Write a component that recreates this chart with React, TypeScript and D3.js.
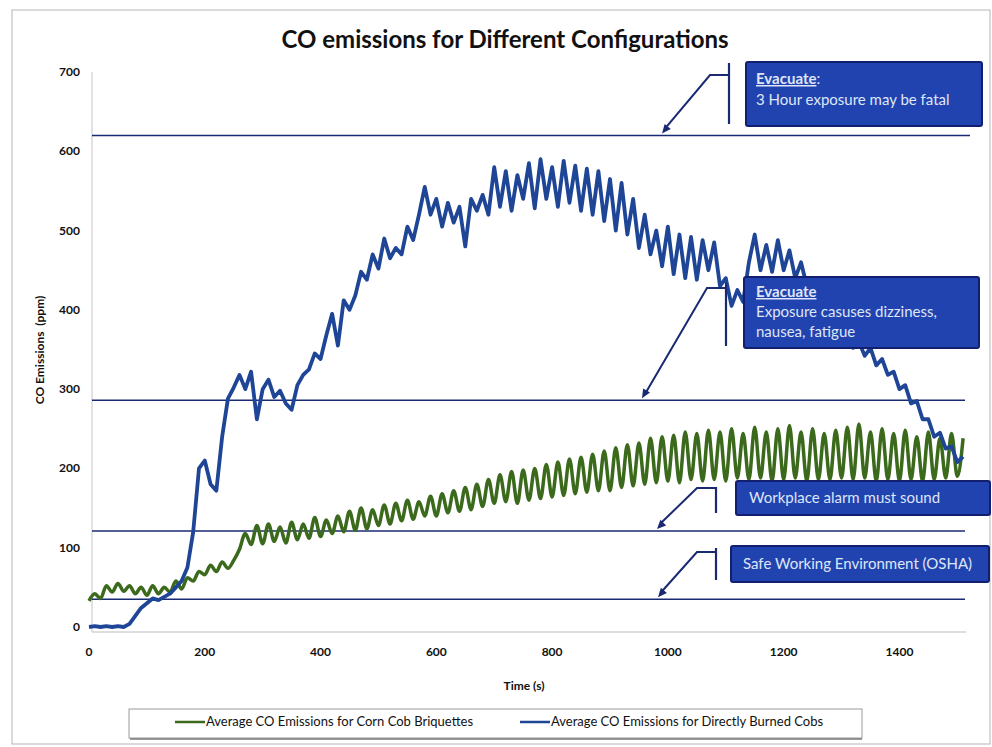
import React from "react";
import * as d3 from "d3";

const STEP = 10; // seconds between samples

const briquettes = [
  33, 42, 36, 52, 44, 55, 45, 52, 42, 50, 40, 52, 42, 50, 44, 58, 48, 62, 58, 70,
  66, 78, 70, 82, 74, 84, 98, 118, 104, 128, 105, 130, 108, 126, 106, 132, 110, 130, 112, 138,
  114, 135, 118, 140, 120, 146, 122, 150, 124, 148, 128, 154, 130, 156, 134, 160, 136, 158, 140, 165,
  140, 168, 144, 172, 146, 176, 148, 180, 152, 186, 156, 192, 158, 196, 156, 198, 160, 200, 162, 205,
  164, 208, 166, 212, 168, 214, 170, 218, 172, 222, 172, 226, 176, 230, 178, 232, 180, 238, 182, 240,
  184, 242, 182, 246, 186, 244, 184, 248, 186, 246, 184, 250, 188, 244, 186, 252, 188, 246, 184, 250,
  186, 254, 188, 246, 184, 250, 186, 244, 186, 248, 188, 252, 186, 256, 188, 246, 184, 250, 186, 244,
  184, 248, 186, 240, 184, 246, 186, 238, 188, 244, 190, 238,
];

const directCobs = [
  0, 1, 0, 1, 0, 1, 0, 4, 14, 24, 30, 36, 34, 38, 42, 50, 58, 75, 120, 200,
  210, 180, 172, 240, 288, 302, 318, 300, 322, 262, 300, 312, 290, 298, 282, 274, 305, 318, 325, 345,
  338, 368, 395, 355, 412, 400, 418, 448, 438, 470, 452, 490, 465, 478, 470, 505, 488, 520, 555, 520,
  540, 505, 535, 510, 530, 480, 540, 525, 545, 520, 580, 530, 575, 525, 570, 540, 585, 528, 590, 540,
  580, 530, 588, 535, 582, 525, 578, 520, 575, 512, 565, 500, 560, 495, 540, 478, 520, 470, 500, 455,
  505, 445, 495, 440, 492, 438, 488, 450, 485, 430, 440, 405, 425, 410, 460, 495, 450, 482, 448, 488,
  450, 475, 440, 460, 430, 440, 410, 420, 395, 400, 378, 380, 352, 360, 342, 352, 330, 338, 318, 322,
  300, 305, 282, 285, 262, 262, 240, 245, 225, 228, 208, 215,
];

const yTicks = [0, 100, 200, 300, 400, 500, 600, 700];
const xTicks = [0, 200, 400, 600, 800, 1000, 1200, 1400];

const thresholds = [620, 286, 121, 35];

const seriesNames = [
  "Average CO Emissions for Corn Cob Briquettes",
  "Average CO Emissions for Directly Burned Cobs",
];

const title = "CO emissions for Different Configurations";
const xTitle = "Time (s)";
const yTitle = "CO Emissions  (ppm)";

const FONT = "Lato, 'Open Sans', sans-serif";
const GREEN = "#3b6a1c";
const BLUE = "#1f4596";
const NAVY = "#1a2a72";
const BOX_FILL = "#2143b0";
const BOX_STROKE = "#111f6e";
const BOX_TEXT = "#dfe6f7";

type Callout = {
  box: [number, number, number, number];
  lines: { text: string; underline?: boolean; suffix?: string }[];
  vx: number;
  vy: [number, number];
  hy: number;
  hx: number;
  ax: number;
  level: number;
  textX: number;
  firstBaseline: number;
  lineGap: number;
};

const callouts: Callout[] = [
  {
    box: [746, 62, 236, 64],
    lines: [{ text: "Evacuate", underline: true, suffix: ":" }, { text: "3 Hour exposure may be fatal" }],
    vx: 729, vy: [63, 124], hy: 75, hx: 710, ax: 662, level: 0,
    textX: 756, firstBaseline: 84, lineGap: 21,
  },
  {
    box: [744, 277, 235, 71],
    lines: [{ text: "Evacuate", underline: true }, { text: "Exposure casuses dizziness," }, { text: "nausea, fatigue" }],
    vx: 726, vy: [283, 346], hy: 288, hx: 707, ax: 642, level: 1,
    textX: 756, firstBaseline: 297, lineGap: 20,
  },
  {
    box: [736, 481, 254, 34],
    lines: [{ text: "Workplace alarm must sound" }],
    vx: 716, vy: [487, 513], hy: 488, hx: 697, ax: 657, level: 2,
    textX: 749, firstBaseline: 503, lineGap: 20,
  },
  {
    box: [731, 546, 258, 36],
    lines: [{ text: "Safe Working Environment (OSHA)" }],
    vx: 716, vy: [548, 580], hy: 552, hx: 697, ax: 658, level: 3,
    textX: 743, firstBaseline: 569, lineGap: 20,
  },
];

export default function App() {
  const x = d3.scaleLinear().domain([0, 1515]).range([89, 966]);
  const y = d3.scaleLinear().domain([0, 700]).range([627, 72]);

  const greenLine = d3
    .line<number>()
    .x((_, i) => x(i * STEP))
    .y((d) => y(d))
    .curve(d3.curveMonotoneX);

  const blueLine = d3
    .line<number>()
    .x((_, i) => x(i * STEP))
    .y((d) => y(d))
    .curve(d3.curveLinear);

  const arrowHead = (tx: number, ty: number, fx: number, fy: number) => {
    const ang = Math.atan2(ty - fy, tx - fx);
    const len = 9;
    const w = 4;
    const bx = tx - len * Math.cos(ang);
    const by = ty - len * Math.sin(ang);
    const px = -Math.sin(ang) * w;
    const py = Math.cos(ang) * w;
    return `M${tx},${ty} L${bx + px},${by + py} L${bx - px},${by - py} Z`;
  };

  return (
    <svg
      width={992}
      height={747}
      style={{ position: "absolute", left: 0, top: 0, background: "#fff" }}
      fontFamily={FONT}
    >
      <rect x={12} y={10} width={978} height={734} fill="#fff" stroke="#b5b5b5" strokeWidth={1} />

      <text x={505} y={48} textAnchor="middle" fontSize={24} fontWeight="bold" fill="#111">
        {title}
      </text>

      {/* axes */}
      <line x1={92} x2={92} y1={72} y2={632} stroke="#c4c4c4" strokeWidth={1} />
      <line x1={92} x2={966} y1={632} y2={632} stroke="#bdbdbd" strokeWidth={1} />

      {yTicks.map((t) => (
        <text key={"y" + t} x={80} y={y(t) + 4} textAnchor="end" fontSize={12} fontWeight="bold" fill="#111">
          {t}
        </text>
      ))}
      {xTicks.map((t) => (
        <text key={"x" + t} x={x(t)} y={656} textAnchor="middle" fontSize={12} fontWeight="bold" fill="#111">
          {t}
        </text>
      ))}
      <text x={524} y={690} textAnchor="middle" fontSize={12} fontWeight="bold" fill="#111">
        {xTitle}
      </text>
      <text
        transform={`translate(44,350) rotate(-90)`}
        textAnchor="middle"
        fontSize={12}
        fontWeight="bold"
        fill="#111"
        style={{ whiteSpace: "pre" }}
      >
        {yTitle}
      </text>

      {/* threshold lines */}
      {thresholds.map((v, i) => (
        <line
          key={"th" + i}
          x1={92}
          x2={i === 0 ? 970 : 965}
          y1={y(v)}
          y2={y(v)}
          stroke={NAVY}
          strokeWidth={1.4}
        />
      ))}

      {/* series */}
      <path d={greenLine(briquettes) || ""} fill="none" stroke={GREEN} strokeWidth={3.5} strokeLinejoin="round" />
      <path d={blueLine(directCobs) || ""} fill="none" stroke={BLUE} strokeWidth={3.8} strokeLinejoin="round" />

      {/* callouts */}
      {callouts.map((c, i) => {
        const ty = y(thresholds[c.level]) - 2;
        return (
          <g key={"c" + i}>
            <line x1={c.vx} x2={c.vx} y1={c.vy[0]} y2={c.vy[1]} stroke={NAVY} strokeWidth={2.2} />
            <polyline
              points={`${c.vx},${c.hy} ${c.hx},${c.hy} ${c.ax + 4},${ty - 6}`}
              fill="none"
              stroke={NAVY}
              strokeWidth={2}
            />
            <path d={arrowHead(c.ax, ty, c.hx, c.hy)} fill={NAVY} />
            <rect
              x={c.box[0]}
              y={c.box[1]}
              width={c.box[2]}
              height={c.box[3]}
              fill={BOX_FILL}
              stroke={BOX_STROKE}
              strokeWidth={2}
              rx={2}
            />
            {c.lines.map((l, j) => (
              <text
                key={j}
                x={c.textX}
                y={c.firstBaseline + j * c.lineGap}
                fontSize={15}
                fill={BOX_TEXT}
              >
                <tspan textDecoration={l.underline ? "underline" : undefined} fontWeight={l.underline ? "bold" : undefined}>
                  {l.text}
                </tspan>
                {l.suffix ? <tspan>{l.suffix}</tspan> : null}
              </text>
            ))}
          </g>
        );
      })}

      {/* legend */}
      <rect x={129} y={709} width={733} height={29} fill="#fff" stroke="#9a9a9a" strokeWidth={1} />
      <line x1={130} x2={862} y1={739} y2={739} stroke="#777" strokeWidth={1.5} />
      <line x1={175} x2={205} y1={722} y2={722} stroke={GREEN} strokeWidth={2.5} />
      <text x={206} y={726} fontSize={13} fill="#111">
        {seriesNames[0]}
      </text>
      <line x1={520} x2={550} y1={722} y2={722} stroke={BLUE} strokeWidth={2.5} />
      <text x={551} y={726} fontSize={13} fill="#111">
        {seriesNames[1]}
      </text>
    </svg>
  );
}
